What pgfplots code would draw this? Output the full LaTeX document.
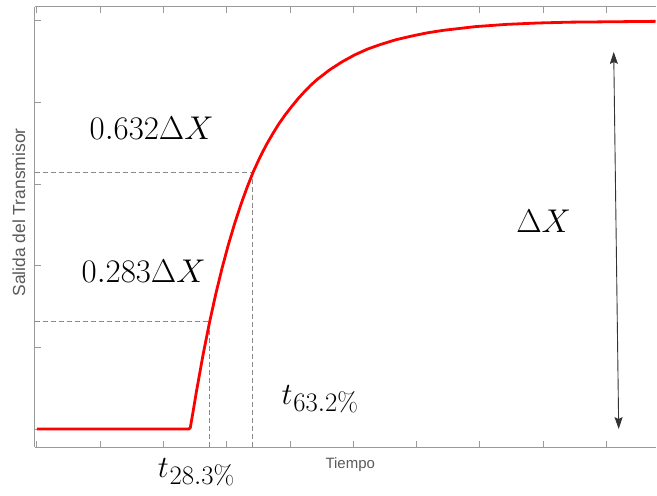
\documentclass[border=0pt]{standalone}
\usepackage{fontspec}
\usepackage{pgfplots}
\pgfplotsset{compat=1.18}
\usetikzlibrary{arrows.meta}
\newfontfamily\arial{Liberation Sans}
\definecolor{axgray}{HTML}{9A9A9A}
\definecolor{dashgray}{HTML}{8A8A8A}
\definecolor{labgray}{HTML}{5A5A5A}
\newcommand{\biglab}[1]{\scalebox{1.33}{\fontsize{24.88}{28}\selectfont #1}}
\newcommand{\tlab}[1]{{\fontsize{24.88}{28}\selectfont\scalebox{1.25}{$t$}\kern0.8bp\raisebox{-7.5bp}{\scalebox{1.08}{$#1$}}}}
\begin{document}
\begin{tikzpicture}
\begin{axis}[
  scale only axis,
  width=622bp, height=441bp,
  xmin=-0.0315, xmax=9.7792,
  ymin=-0.220, ymax=5.171,
  xtick={0,1,...,9}, ytick={0,1,...,5},
  xticklabels={}, yticklabels={},
  xtick pos=both, ytick pos=left,
  tick align=inside,
  major tick length=6bp,
  tick style={axgray, line width=0.9bp},
  axis line style={draw=none},
  clip=false,
  xlabel={\arial\fontsize{15bp}{16bp}\selectfont Tiempo},
  xlabel style={at={(rel axis cs:0.508,-0.041)}, anchor=center, text=labgray},
  ylabel={\arial\fontsize{17.5bp}{19bp}\selectfont Salida del Transmisor},
  ylabel style={at={(rel axis cs:-0.0257,0.533)}, anchor=center, rotate=0, text=labgray},
]
\coordinate (O) at (rel axis cs:0,0);
\draw[axgray, line width=1bp] (rel axis cs:0,0) -- (rel axis cs:1,0);
\draw[axgray, line width=1bp] (rel axis cs:0,1) -- (rel axis cs:1,1);
\draw[axgray, line width=1bp] (rel axis cs:0,0) -- (rel axis cs:0,1);
% dashed guide lines
\addplot[dashgray, line width=1bp, dash pattern=on 5bp off 3bp] coordinates {(-0.0315,1.32) (2.73,1.32) (2.73,-0.220)};
\addplot[dashgray, line width=1bp, dash pattern=on 5bp off 3bp] coordinates {(-0.0315,3.14) (3.41,3.14) (3.41,-0.220)};
% response curve
\addplot[red, line width=2.8bp, line join=round] coordinates {
(0,0) (2.40,0) (2.425,0.02) (2.475,0.244) (2.525,0.476) (2.625,0.906) (2.725,1.296) (2.825,1.648)
(2.925,1.967) (3.025,2.256) (3.125,2.517) (3.225,2.753) (3.325,2.967)
(3.425,3.161) (3.525,3.33) (3.625,3.48) (3.725,3.615) (3.825,3.74) (3.925,3.85)
(4.025,3.95) (4.125,4.045) (4.225,4.13) (4.325,4.21) (4.425,4.28)
(4.625,4.40) (4.825,4.50) (5.025,4.585) (5.225,4.655) (5.425,4.71)
(5.675,4.77) (5.925,4.815) (6.175,4.855) (6.425,4.885) (6.925,4.93)
(7.425,4.958) (7.925,4.975) (8.425,4.985) (9.7792,4.995)
};
% Delta X arrow
\draw[{Stealth[length=12bp,width=8bp,inset=2bp]}-{Stealth[length=12bp,width=8bp,inset=2bp]}, black!80, line width=0.9bp]
  (axis cs:9.117,4.62) -- (axis cs:9.196,0.0);
% labels
\node[anchor=center] at (axis cs:1.814,3.68) {\biglab{$0.632\Delta X$}};
\node[anchor=center] at (axis cs:1.688,1.93) {\biglab{$0.283\Delta X$}};
\node[anchor=center] at (axis cs:8.01,2.54) {\biglab{$\Delta X$}};
\node[anchor=base west, inner sep=0pt] at (axis cs:3.864,0.306) {\tlab{63.2\%}};
\node[anchor=base west, inner sep=0pt] at (axis cs:1.909,-0.587) {\tlab{28.3\%}};
\end{axis}
\path[shift={(O)}] (-35bp,-49bp) rectangle (622bp,448bp);
\end{tikzpicture}
\end{document}
